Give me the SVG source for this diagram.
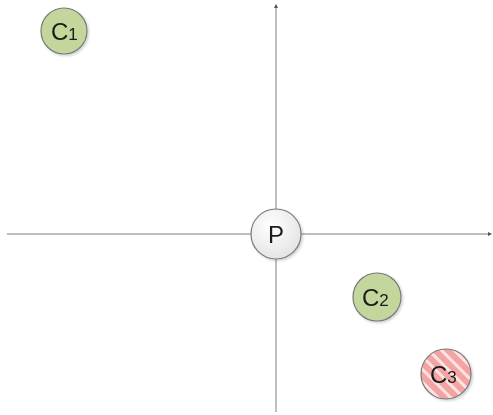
<svg xmlns="http://www.w3.org/2000/svg" width="493" height="415" viewBox="0 0 493 415">
<style>
.ax{stroke:#7f7f7f;stroke-width:1;fill:none}
.node{stroke:#7a7a7a;stroke-width:1.2}
.g{fill:#c3d69b}
.lbl{font-family:"Liberation Sans",Arial,sans-serif;fill:#1a1a1a}
.big{font-size:24px}
.sub{font-size:17px}
</style>
<defs>
<marker id="ah" markerWidth="4" markerHeight="4" refX="3" refY="2" orient="auto" markerUnits="userSpaceOnUse">
<path d="M0,0 L4,2 L0,4 Z" fill="#555"/>
</marker>
<radialGradient id="pg" cx="0.4" cy="0.35" r="0.7">
<stop offset="0" stop-color="#ffffff"/>
<stop offset="1" stop-color="#e3e3e3"/>
</radialGradient>
<pattern id="stripes" width="9" height="9" patternUnits="userSpaceOnUse" patternTransform="rotate(-45)">
<rect width="9" height="9" fill="#f4a3a3"/>
<rect width="3" height="9" fill="#fde3e3"/>
</pattern>
<filter id="sh" x="-20%" y="-20%" width="150%" height="150%">
<feDropShadow dx="1.5" dy="1.5" stdDeviation="1.2" flood-color="#000" flood-opacity="0.18"/>
</filter>
</defs>
<g id="connectors">
<line class="ax" x1="276" y1="412" x2="276" y2="5" marker-end="url(#ah)"/>
<line class="ax" x1="7" y1="234" x2="491" y2="234" marker-end="url(#ah)"/>
</g>
<g id="C1" filter="url(#sh)">
<circle class="node g" cx="64" cy="31" r="23"/>
<text class="lbl" x="51" y="40"><tspan class="big">C</tspan><tspan class="sub">1</tspan></text>
</g>
<g id="P" filter="url(#sh)">
<circle class="node" cx="276" cy="234" r="25" fill="url(#pg)"/>
<text class="lbl big" x="276" y="243" text-anchor="middle">P</text>
</g>
<g id="C2" filter="url(#sh)">
<circle class="node g" cx="377" cy="297" r="24"/>
<text class="lbl" x="362" y="306"><tspan class="big">C</tspan><tspan class="sub">2</tspan></text>
</g>
<g id="C3" filter="url(#sh)">
<circle class="node" cx="446" cy="374" r="25" fill="url(#stripes)"/>
<text class="lbl" x="430" y="383"><tspan class="big">C</tspan><tspan class="sub">3</tspan></text>
</g>
</svg>
